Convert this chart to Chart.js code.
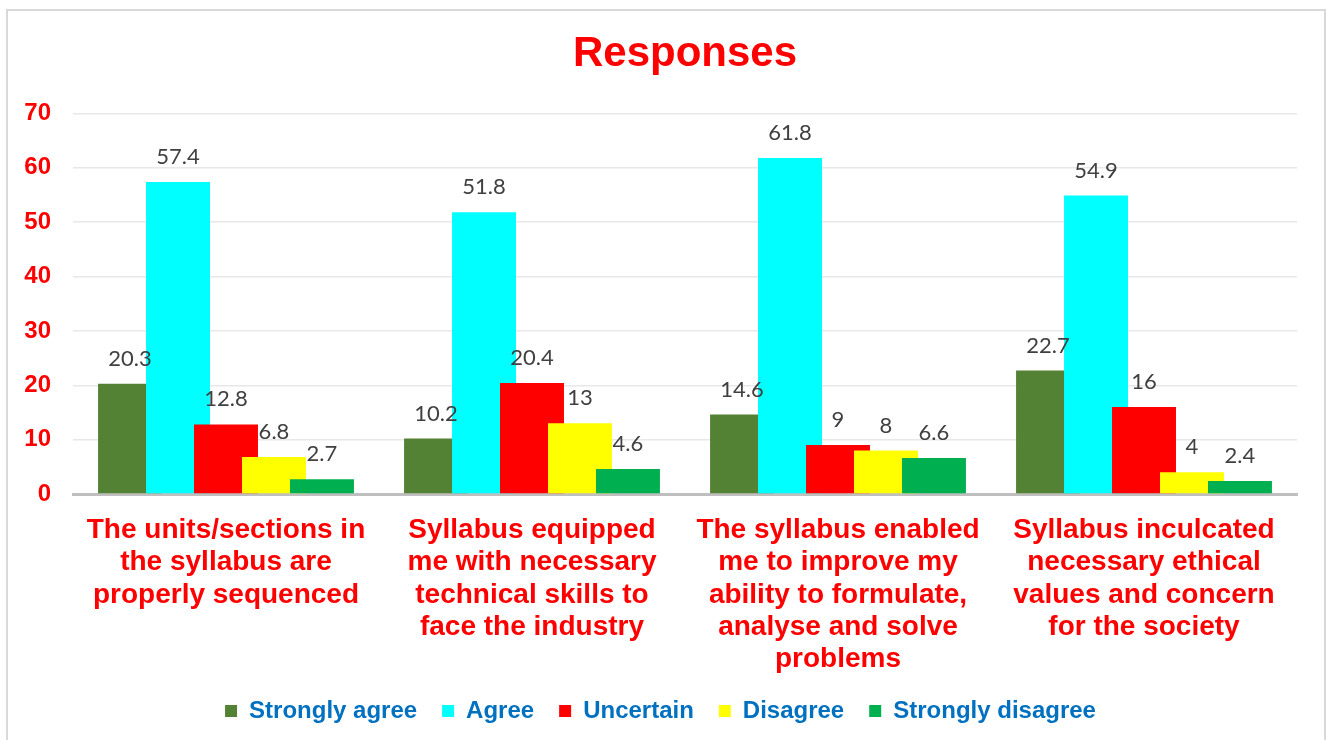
<!DOCTYPE html>
<html>
<head>
<meta charset="utf-8">
<script src="https://cdn.jsdelivr.net/npm/chart.js@4"></script>
<style>
  body { margin: 0; background: #fff; overflow: hidden; }
  #wrap { position: relative; width: 1328px; height: 740px; }
  #frame {
    position: absolute; left: 6px; top: 9px; width: 1316px; height: 760px;
    border: 2px solid #d9d9d9; pointer-events: none;
  }
</style>
</head>
<body>
<div id="wrap">
  <canvas id="chart" width="1328" height="740"></canvas>
  <div id="frame"></div>
</div>
<script>
// Data
const categories = [
  ["The units/sections in", "the syllabus are", "properly sequenced"],
  ["Syllabus equipped", "me with necessary", "technical skills to", "face the industry"],
  ["The syllabus enabled", "me to improve my", "ability to formulate,", "analyse and solve", "problems"],
  ["Syllabus inculcated", "necessary ethical", "values and concern", "for the society"],
];
const seriesNames = ["Strongly agree", "Agree", "Uncertain", "Disagree", "Strongly disagree"];
const stronglyAgree = [20.3, 10.2, 14.6, 22.7];
const agree = [57.4, 51.8, 61.8, 54.9];
const uncertain = [12.8, 20.4, 9, 16];
const disagree = [6.8, 13, 8, 4];
const stronglyDisagree = [2.7, 4.6, 6.6, 2.4];
const yTicks = [0, 10, 20, 30, 40, 50, 60, 70];

const colors = ["#548235", "#00FFFF", "#FF0000", "#FFFF00", "#00B050"];
const values = [stronglyAgree, agree, uncertain, disagree, stronglyDisagree];

Chart.defaults.font.family = "'Liberation Sans', Arial, sans-serif";

// draw bars left to right so the right bar overlaps the left one, then the value labels
const drawOrder = {
  id: "drawOrder",
  beforeDatasetsDraw(chart) {
    const ctx = chart.ctx;
    const metas = chart.getSortedVisibleDatasetMetas();
    metas.forEach((meta) => meta.controller.draw());

    ctx.save();
    ctx.font = "22px Lato";
    ctx.fillStyle = "#404040";
    ctx.textAlign = "center";
    ctx.textBaseline = "middle";
    metas.forEach((meta) => {
      const data = chart.data.datasets[meta.index].data;
      meta.data.forEach((bar, i) => {
        ctx.fillText(String(data[i]), bar.x, bar.y - 25);
      });
    });
    ctx.restore();
    return false;
  },
};

const chart = document.querySelector("#chart").getContext("2d");

new Chart(chart, {
  type: "bar",
  data: {
    labels: categories,
    datasets: seriesNames.map((name, i) => ({
      label: name,
      data: values[i],
      backgroundColor: colors[i],
      borderWidth: 0,
      categoryPercentage: 0.784,
      barPercentage: 1.333,
    })),
  },
  options: {
    responsive: false,
    animation: false,
    layout: {
      autoPadding: false,
      padding: { left: 24, right: 31, top: 0, bottom: 7 },
    },
    scales: {
      x: {
        grid: { display: false },
        border: { color: "#bfbfbf", width: 3 },
        ticks: {
          color: "#FF0000",
          padding: 12,
          maxRotation: 0,
          autoSkip: false,
          font: { size: 28, weight: "bold", lineHeight: 1.155 },
        },
        afterFit(scale) {
          scale.height = 180;
        },
      },
      y: {
        min: 0,
        max: 70,
        afterBuildTicks(scale) {
          scale.ticks = yTicks.map((v) => ({ value: v }));
        },
        afterFit(scale) {
          scale.width = 49;
        },
        border: { display: false },
        grid: {
          color: "#e8e8e8",
          lineWidth: 1.5,
          drawTicks: false,
        },
        ticks: {
          color: "#FF0000",
          padding: 22,
          font: { size: 24, weight: "bold" },
        },
      },
    },
    plugins: {
      title: {
        display: true,
        fullSize: false,
        text: "Responses",
        color: "#FF0000",
        font: { size: 42, weight: "bold" },
        padding: { top: 29, bottom: 34 },
      },
      legend: {
        position: "bottom",
        labels: {
          color: "#0070C0",
          boxWidth: 12,
          boxHeight: 12,
          padding: 25,
          font: { size: 24, weight: "bold" },
        },
      },
      tooltip: { enabled: false },
    },
  },
  plugins: [drawOrder],
});
</script>
</body>
</html>
